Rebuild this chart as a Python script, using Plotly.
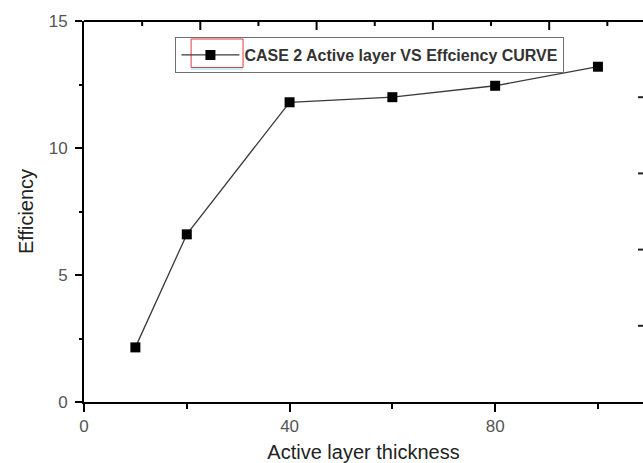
import plotly.graph_objects as go

# Active layer thickness vs efficiency (case 2)
thickness = [10, 20, 40, 60, 80, 100]
efficiency = [2.15, 6.6, 11.8, 12.0, 12.45, 13.2]
series_name = "CASE 2 Active layer VS Effciency CURVE"

x_ticks = [0, 40, 80]
x_minor = [20, 60, 100]
y_ticks = [0, 5, 10, 15]
# top frame carries its own finer tick spacing (in frame units)
top_major = [2, 4, 6, 8]
top_minor = [1, 3, 5, 7, 9]
# short marks along the right edge (efficiency units)
right_marks = [3, 6, 9, 12]

W, H = 643, 463
L, R, T, B = 83.5, 0, 20.5, 61.3
PW, PH = W - L - R, H - T - B

tick_font = dict(family="Liberation Sans, Arial, sans-serif", size=17, color="#555555")
title_font = dict(family="Liberation Sans, Arial, sans-serif", size=20, color="#222222")

top_span = PW / 58.2

fig = go.Figure()
fig.add_trace(go.Scatter(
    x=thickness, y=efficiency, mode="lines+markers", name=series_name,
    line=dict(color="#3a3a3a", width=1.3),
    marker=dict(symbol="square", size=10, color="black"),
))

fig.update_layout(
    width=W, height=H,
    margin=dict(l=L, r=R, t=T, b=B, pad=0),
    paper_bgcolor="white", plot_bgcolor="white",
    showlegend=True,
    legend=dict(
        x=(175 - L) / PW, y=(H - B - 36.5) / PH,
        xanchor="left", yanchor="top",
        bgcolor="rgba(255,255,255,0)", bordercolor="#6f6f6f", borderwidth=1,
        font=dict(family="Liberation Sans, Arial, sans-serif", size=16, color="#333333", weight="bold"),
        itemwidth=58,
        tracegroupgap=0,
    ),
    xaxis=dict(
        range=[0, PW / 5.144],
        tickmode="array", tickvals=x_ticks, ticktext=[str(v) for v in x_ticks],
        ticks="outside", ticklen=8, tickwidth=2, tickcolor="black",
        minor=dict(tickmode="array", tickvals=x_minor, ticks="outside", ticklen=5, tickwidth=2, tickcolor="black"),
        showline=True, linecolor="black", linewidth=2,
        showgrid=False, zeroline=False,
        tickfont=tick_font,
        title=dict(text="Active layer thickness", font=title_font, standoff=14),
    ),
    yaxis=dict(
        range=[0, 15],
        tickmode="array", tickvals=y_ticks, ticktext=[str(v) for v in y_ticks],
        ticks="outside", ticklen=7, tickwidth=2, tickcolor="black",
        minor=dict(tickmode="linear", tick0=2.5, dtick=5, ticks="outside", ticklen=3, tickwidth=2, tickcolor="black"),
        showline=True, linecolor="black", linewidth=2,
        showgrid=False, zeroline=False,
        tickfont=tick_font, ticklabelstandoff=4,
        title=dict(text="Efficiency", font=title_font, standoff=10),
    ),
)

# top frame line and its inward ticks (drawn in paper space, outside axis clipping)
y_top = 1.0
fig.add_shape(type="line", xref="paper", yref="paper", x0=0, x1=1, y0=y_top, y1=y_top,
              line=dict(color="black", width=2), layer="above")
for vals, length in ((top_major, 9), (top_minor, 5)):
    for v in vals:
        f = v / top_span
        fig.add_shape(type="line", xref="paper", yref="paper",
                      x0=f, x1=f, y0=y_top, y1=y_top - length / PH,
                      line=dict(color="black", width=2), layer="above")

# short inward marks along the right edge
for v in right_marks:
    fy = v / 15
    fig.add_shape(type="line", xref="paper", yref="paper",
                  x0=1, x1=1 - 5 / PW, y0=fy, y1=fy,
                  line=dict(color="#222222", width=2), layer="above")

# red selection frame around the legend symbol, with its faint cyan underline
fig.add_shape(type="rect", xref="paper", yref="paper",
              x0=(190.7 - L) / PW, x1=(242.7 - L) / PW,
              y0=(H - B - 67) / PH, y1=(H - B - 38.5) / PH,
              line=dict(color="#e0393e", width=1), fillcolor="rgba(0,0,0,0)")
fig.add_shape(type="line", xref="paper", yref="paper",
              x0=(190.7 - L) / PW, x1=(242.7 - L) / PW,
              y0=(H - B - 68.5) / PH, y1=(H - B - 68.5) / PH,
              line=dict(color="#bff3f5", width=2))

fig.write_html("out.html")
